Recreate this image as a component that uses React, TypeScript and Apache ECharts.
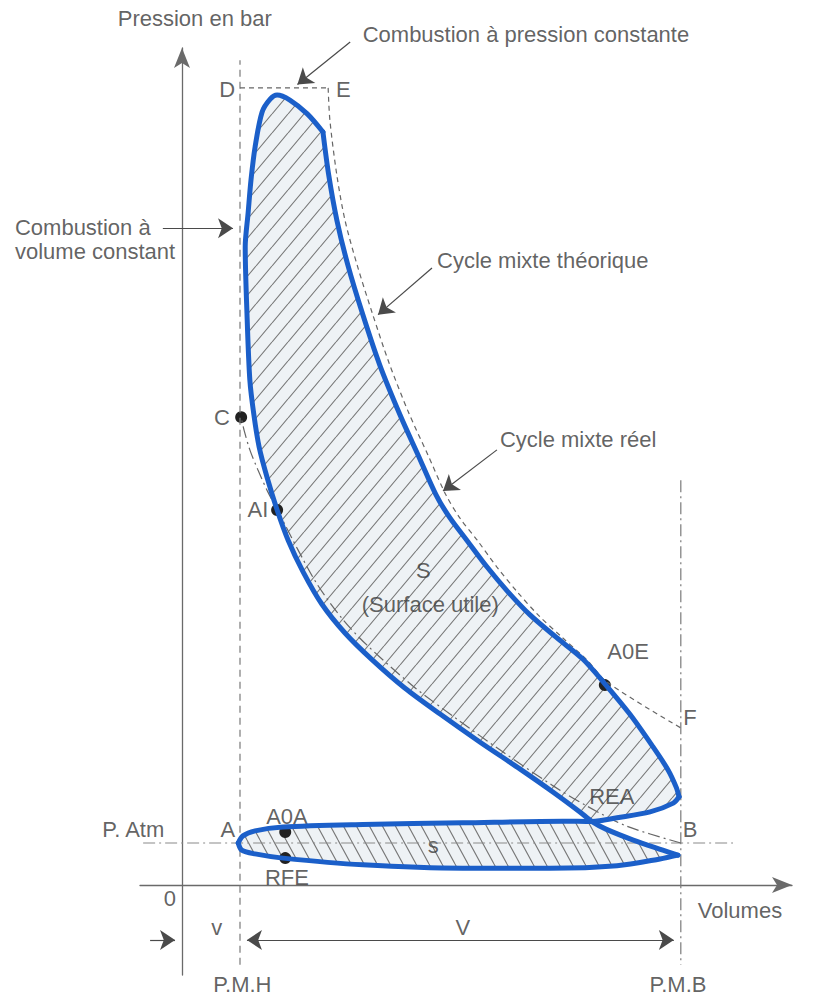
import React, { useEffect, useRef } from "react";
import * as echarts from "echarts";

// Volume axis: clearance volume v = 1 (P.M.H), P.M.B at 8.6. Pressure axis in bar.
const X_MIN = -0.724;
const X_MAX = 10.517;
const Y_MIN = -2.143;
const Y_MAX = 19.929;

// ---- Real mixed cycle (blue) ----
const compressionLow = [[8.55, 0.71], [8.29, 0.83], [7.78, 1.07], [7.31, 1.33], [7.07, 1.51]];
const compressionHigh = [
  [7.07, 1.51], [6.86, 1.74], [6.4, 2.21], [5.83, 2.76], [5.14, 3.4], [4.45, 4.07], [3.84, 4.69],
  [3.28, 5.36], [2.81, 6.0], [2.41, 6.69], [2.09, 7.45], [1.83, 8.21], [1.64, 8.93],
  [1.47, 9.69], [1.33, 10.43], [1.24, 11.19], [1.17, 12.02], [1.12, 13.62], [1.09, 15.19],
  [1.14, 16.0], [1.19, 16.79], [1.26, 17.57], [1.38, 18.4], [1.52, 18.71], [1.64, 18.81],
];
const expansionTop = [[1.64, 18.81], [1.86, 18.69], [2.16, 18.36], [2.43, 17.93]];
const expansion = [
  [2.43, 17.93], [2.53, 16.9], [2.67, 15.83], [2.86, 14.76], [3.12, 13.57], [3.41, 12.38],
  [3.76, 11.19], [4.07, 10.24], [4.38, 9.29], [4.62, 8.74], [4.91, 8.21], [5.26, 7.57],
  [5.62, 6.98], [6.0, 6.43], [6.45, 5.9], [6.91, 5.38], [7.29, 4.79], [7.72, 4.07],
  [8.1, 3.33], [8.38, 2.74], [8.52, 2.33], [8.57, 2.1],
];
const exhaustHigh = [[8.57, 2.1], [8.47, 1.95], [8.07, 1.74], [7.5, 1.6], [7.07, 1.51]];
const exhaustLow = [
  [7.07, 1.51], [6.57, 1.52], [4.84, 1.48], [3.12, 1.44], [1.74, 1.38], [1.26, 1.29], [1.05, 1.17], [0.97, 1.0],
];
const intake = [
  [0.97, 1.0], [1.03, 0.83], [1.26, 0.74], [1.74, 0.64], [3.12, 0.48], [4.84, 0.4], [6.34, 0.4],
  [7.5, 0.46], [8.24, 0.62], [8.55, 0.71],
];

// ---- Theoretical mixed cycle (thin dashed) ----
const theoDE = [[1.0, 18.98], [2.52, 18.98]];
const theoExpansion = [
  [2.52, 18.98], [2.55, 18.21], [2.67, 16.9], [2.81, 15.83], [3.02, 14.76], [3.28, 13.62],
  [3.57, 12.43], [3.91, 11.24], [4.24, 10.24], [4.55, 9.29], [4.79, 8.74], [5.09, 8.21],
  [5.43, 7.57], [5.78, 6.98], [6.14, 6.43], [6.55, 5.9], [6.98, 5.36], [7.33, 4.83], [8.6, 3.74],
];
const theoCompression = [
  [8.6, 1.0], [7.67, 1.4], [6.98, 1.88], [6.4, 2.36], [5.53, 3.17], [4.74, 3.95], [3.98, 4.74],
  [3.19, 5.71], [2.78, 6.31], [2.34, 7.14], [2.0, 7.98], [1.69, 8.81], [1.48, 9.36],
  [1.31, 9.88], [1.17, 10.36], [1.07, 10.83], [1.02, 11.14],
];

// ---- Guide lines ----
const pmhLine = [[1.0, -1.9], [1.0, 19.64]];
const pmbLine = [[8.6, 9.64], [8.6, -1.9]];
const patmLine = [[-0.67, 1.0], [9.5, 1.0]];

// ---- Key points: C, AI, A0E, A0A, RFE ----
const keyPoints = [[1.02, 11.14], [1.64, 8.93], [7.29, 4.76], [1.78, 1.26], [1.78, 0.64]];

// ---- Pointer arrows & dimension arrows ----
const pointerArrows = [
  [[2.9, 20.07], [1.99, 19.06]],
  [[-0.33, 15.64], [0.88, 15.64]],
  [[4.31, 14.69], [3.38, 13.58]],
  [[5.43, 10.36], [4.5, 9.38]],
];
const dimSmall = [[-0.55, -1.31], [-0.12, -1.31]];
const dimLarge = [[1.12, -1.31], [8.48, -1.31]];

// ---- Texts ----
const textLabels = [
  { text: "Pression en bar", at: [0.22, 20.64] },
  { text: "Combustion à pression constante", at: [5.93, 20.24] },
  { text: "D", at: [0.78, 18.95] },
  { text: "E", at: [2.78, 18.93] },
  { text: "Cycle mixte théorique", at: [6.22, 14.88] },
  { text: "C", at: [0.69, 11.14] },
  { text: "Cycle mixte réel", at: [6.83, 10.6] },
  { text: "AI", at: [1.31, 8.93] },
  { text: "S", at: [4.16, 7.5] },
  { text: "(Surface utile)", at: [4.28, 6.67] },
  { text: "A0E", at: [7.69, 5.55] },
  { text: "F", at: [8.76, 3.98] },
  { text: "REA", at: [7.41, 2.1] },
  { text: "P. Atm", at: [-0.84, 1.33] },
  { text: "A", at: [0.79, 1.33] },
  { text: "A0A", at: [1.81, 1.62] },
  { text: "B", at: [8.76, 1.33] },
  { text: "s", at: [4.33, 0.95] },
  { text: "RFE", at: [1.81, 0.17] },
  { text: "0", at: [-0.21, -0.31] },
  { text: "Volumes", at: [9.62, -0.6] },
  { text: "v", at: [0.6, -1.02] },
  { text: "V", at: [4.84, -1.02] },
  { text: "P.M.H", at: [1.04, -2.38] },
  { text: "P.M.B", at: [8.55, -2.38] },
];
const sideLabel = { text: "Combustion à\nvolume constant", at: [-2.88, 15.36] };

const FONT = '"Liberation Sans", Arial, Helvetica, sans-serif';
const TEXT_COLOR = "#3a3a3a";
const BLUE = "#1b5fc9";
const GUIDE = "#7a7a7a";
const FONT_SIZE = 22;

function join(...parts: number[][][]): number[][] {
  const out: number[][] = [];
  parts.forEach((p) => {
    p.forEach((pt, i) => {
      if (i === 0 && out.length) return;
      out.push(pt);
    });
  });
  return out;
}

function hatch(w: number, h: number, dir: string) {
  const d =
    dir === "/"
      ? `M${-w} ${h} L0 0 M0 ${h} L${w} 0 M${w} ${h} L${2 * w} 0`
      : `M${-w} 0 L0 ${h} M0 0 L${w} ${h} M${w} 0 L${2 * w} ${h}`;
  const svg = `<svg xmlns="http://www.w3.org/2000/svg" width="${w}" height="${h}"><rect width="${w}" height="${h}" fill="#eef2f5"/><path d="${d}" stroke="#787878" stroke-width="1.1" fill="none"/></svg>`;
  return {
    image: "data:image/svg+xml;charset=utf-8," + encodeURIComponent(svg),
    repeat: "repeat",
    imageWidth: w,
    imageHeight: h,
  };
}

export default function App() {
  const ref = useRef<HTMLDivElement>(null);

  useEffect(() => {
    if (!ref.current) return;
    const chart = echarts.init(ref.current, null, { renderer: "svg" });

    const upperLobe = join(compressionHigh, expansionTop, expansion, exhaustHigh);
    const lowerLobe = join(exhaustLow, intake, compressionLow);

    const fillSeries = (pts: number[][], pattern: any) => ({
      type: "custom",
      data: [[0, 0]],
      clip: false,
      silent: true,
      renderItem: (_p: any, api: any) => ({
        type: "polygon",
        shape: { points: pts.map((p) => api.coord(p)) },
        style: { fill: pattern, stroke: null },
      }),
    });

    const lineSeries = (data: number[][], style: any, smooth: number | boolean = false) => ({
      type: "line",
      data,
      showSymbol: false,
      symbol: "none",
      smooth,
      silent: true,
      clip: false,
      lineStyle: style,
    });

    const blueStyle = { color: BLUE, width: 5, cap: "round", join: "round" };
    const dashDot = [12, 4, 2, 4];

    const arrowLines = (data: number[][][], symbol: string[]) => ({
      type: "lines",
      coordinateSystem: "cartesian2d",
      data: data.map((c) => ({ coords: c })),
      symbol,
      symbolSize: 15,
      silent: true,
      clip: false,
      lineStyle: { color: "#4a4a4a", width: 1.2, opacity: 1, curveness: 0 },
    });

    const axisCommon = {
      type: "value",
      axisTick: { show: false },
      axisLabel: { show: false },
      splitLine: { show: false },
    };
    const axisLine = {
      show: true,
      onZero: true,
      symbol: ["none", "arrow"],
      symbolSize: [12, 20],
      lineStyle: { color: "#6a6a6a", width: 1.3 },
    };

    const labelStyle = {
      show: true,
      position: "inside",
      formatter: "{b}",
      color: TEXT_COLOR,
      fontSize: FONT_SIZE,
      fontFamily: FONT,
    };

    chart.setOption({
      animation: false,
      backgroundColor: "#ffffff",
      grid: { left: 140, right: 22, top: 48, bottom: 24 },
      xAxis: { ...axisCommon, min: X_MIN, max: X_MAX, axisLine },
      yAxis: { ...axisCommon, min: Y_MIN, max: Y_MAX, axisLine },
      series: [
        fillSeries(upperLobe, hatch(16, 19, "/")),
        fillSeries(lowerLobe, hatch(13, 24, "\\")),
        lineSeries(pmhLine, { color: GUIDE, width: 1.2, type: [7, 5] }),
        lineSeries(pmbLine, { color: GUIDE, width: 1.2, type: dashDot }),
        lineSeries(patmLine, { color: "#8a8a8a", width: 1.2, type: dashDot }),
        lineSeries(theoDE, { color: "#666", width: 1.2, type: [5, 4] }),
        lineSeries(theoExpansion, { color: "#666", width: 1.2, type: [5, 4] }, 0.3),
        lineSeries(theoCompression, { color: "#666", width: 1.2, type: dashDot }, 0.3),
        lineSeries(join(compressionLow, compressionHigh, expansionTop), blueStyle, 0.3),
        lineSeries(expansion, blueStyle, 0.3),
        lineSeries(join(exhaustHigh, exhaustLow), blueStyle, 0.3),
        lineSeries(intake, blueStyle, 0.3),
        arrowLines(pointerArrows, ["none", "arrow"]),
        arrowLines([dimSmall], ["none", "arrow"]),
        arrowLines([dimLarge], ["arrow", "arrow"]),
        {
          type: "scatter",
          data: keyPoints,
          symbolSize: 12,
          silent: true,
          clip: false,
          itemStyle: { color: "#222", opacity: 1 },
        },
        {
          type: "scatter",
          data: textLabels.map((t) => ({ name: t.text, value: t.at })),
          symbolSize: 1,
          silent: true,
          clip: false,
          itemStyle: { color: "rgba(0,0,0,0)" },
          label: labelStyle,
        },
        {
          type: "scatter",
          data: [{ name: sideLabel.text, value: sideLabel.at }],
          symbolSize: 1,
          silent: true,
          clip: false,
          itemStyle: { color: "rgba(0,0,0,0)" },
          label: { ...labelStyle, align: "left", verticalAlign: "middle", lineHeight: 24 },
        },
      ],
    });

    return () => chart.dispose();
  }, []);

  return (
    <div
      ref={ref}
      style={{ position: "absolute", left: 0, top: 0, width: 814, height: 999, background: "#fff" }}
    />
  );
}
